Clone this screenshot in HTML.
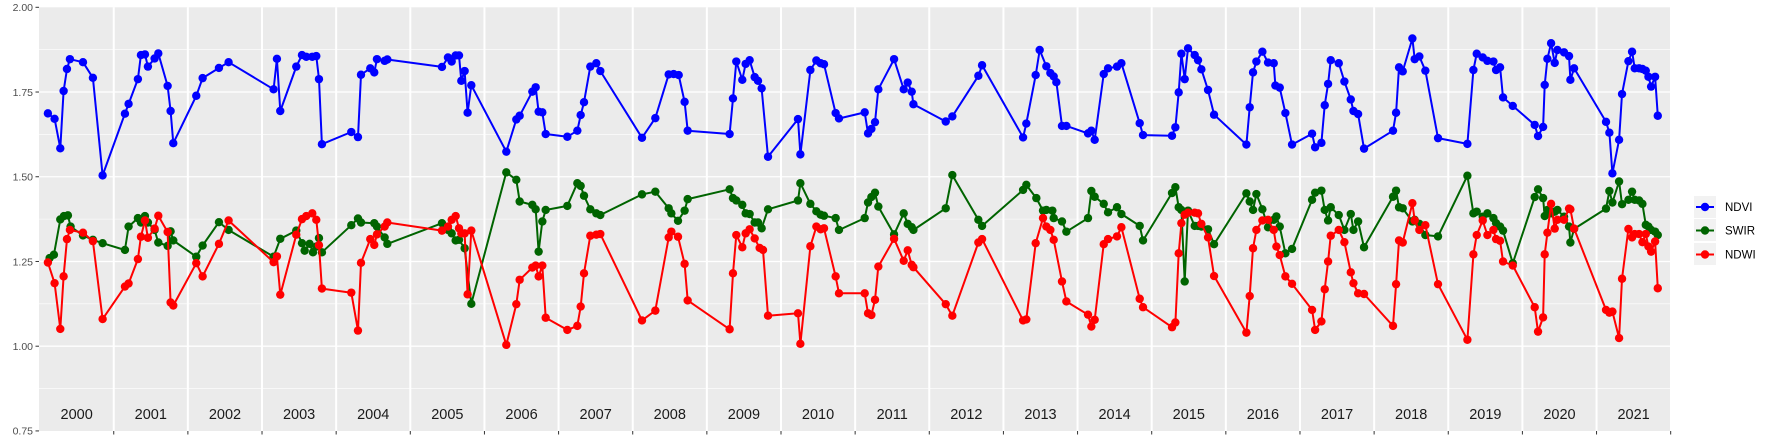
<!DOCTYPE html>
<html><head><meta charset="utf-8"><style>
body{margin:0;background:#fff;}
svg text{font-family:"Liberation Sans",sans-serif;}
</style></head><body>
<svg id="chart" width="1773" height="442" xmlns="http://www.w3.org/2000/svg">
<rect x="39" y="7.3" width="1631" height="423.7" fill="#EBEBEB"/>
<g id="grid"></g><g id="lines"></g><g id="points"></g><g id="axes"></g>
<g>
  <rect x="1694" y="196" width="22" height="22" fill="#F2F2F2"/>
  <rect x="1694" y="219" width="22" height="22" fill="#F2F2F2"/>
  <rect x="1694" y="243" width="22" height="22" fill="#F2F2F2"/>
  <g><line x1="1696" y1="207" x2="1714" y2="207" stroke="#0000FF" stroke-width="2"/><circle cx="1705" cy="207" r="4.2" fill="#0000FF"/><text x="1725" y="211" font-size="11.5" fill="#000">NDVI</text></g>
  <g><line x1="1696" y1="230.5" x2="1714" y2="230.5" stroke="#006400" stroke-width="2"/><circle cx="1705" cy="230.5" r="4.2" fill="#006400"/><text x="1725" y="234.5" font-size="11.5" fill="#000">SWIR</text></g>
  <g><line x1="1696" y1="254.5" x2="1714" y2="254.5" stroke="#FF0000" stroke-width="2"/><circle cx="1705" cy="254.5" r="4.2" fill="#FF0000"/><text x="1725" y="258.5" font-size="11.5" fill="#000">NDWI</text></g>
</g>
</svg>
<script>
const years=[2000,2001,2002,2003,2004,2005,2006,2007,2008,2009,2010,2011,2012,2013,2014,2015,2016,2017,2018,2019,2020,2021];
const yTicks=[0.75,1.00,1.25,1.50,1.75,2.00];
const yTickLabels=["0.75","1.00","1.25","1.50","1.75","2.00"];
const ndviT=[.112,.202,.279,.324,.369,.409,.585,.719,.850,1.151,1.200,1.326,1.367,1.421,1.461,1.551,1.601,1.727,1.767,1.803,2.113,2.199,2.419,2.549,3.156,3.201,3.246,3.462,3.539,3.597,3.678,3.732,3.768,3.808,4.204,4.294,4.335,4.460,4.514,4.550,4.654,4.690,5.427,5.508,5.558,5.612,5.657,5.688,5.733,5.773,5.823,6.295,6.430,6.475,6.646,6.691,6.731,6.781,6.826,7.118,7.253,7.298,7.343,7.428,7.509,7.563,8.125,8.305,8.485,8.552,8.620,8.700,8.741,9.307,9.352,9.397,9.478,9.523,9.577,9.645,9.690,9.739,9.825,10.229,10.261,10.396,10.477,10.535,10.580,10.737,10.782,11.129,11.174,11.219,11.268,11.313,11.525,11.655,11.709,11.763,11.786,12.222,12.311,12.662,12.712,13.265,13.309,13.435,13.489,13.579,13.633,13.678,13.714,13.790,13.849,14.141,14.186,14.231,14.353,14.411,14.532,14.591,14.838,14.883,15.274,15.319,15.364,15.400,15.445,15.490,15.580,15.625,15.670,15.760,15.841,16.277,16.322,16.367,16.412,16.493,16.569,16.646,16.668,16.727,16.803,16.893,17.163,17.204,17.289,17.334,17.379,17.415,17.523,17.599,17.685,17.721,17.784,17.864,18.255,18.296,18.336,18.386,18.516,18.547,18.610,18.691,18.862,19.258,19.339,19.384,19.465,19.528,19.609,19.645,19.699,19.739,19.870,20.166,20.211,20.279,20.301,20.337,20.387,20.436,20.472,20.562,20.629,20.647,20.697,21.128,21.173,21.214,21.304,21.344,21.430,21.479,21.515,21.574,21.619,21.664,21.700,21.736,21.790,21.826];
const ndviV=[1.687,1.671,1.584,1.753,1.818,1.847,1.838,1.792,1.504,1.686,1.715,1.788,1.859,1.861,1.825,1.849,1.864,1.768,1.694,1.599,1.739,1.791,1.821,1.838,1.758,1.848,1.694,1.825,1.859,1.854,1.854,1.856,1.788,1.596,1.632,1.617,1.801,1.820,1.808,1.847,1.842,1.846,1.824,1.852,1.840,1.858,1.858,1.783,1.812,1.689,1.770,1.574,1.669,1.680,1.751,1.764,1.692,1.690,1.626,1.618,1.636,1.682,1.720,1.825,1.835,1.812,1.615,1.673,1.802,1.803,1.800,1.721,1.636,1.626,1.731,1.840,1.786,1.833,1.844,1.794,1.783,1.761,1.559,1.670,1.566,1.815,1.843,1.835,1.832,1.688,1.672,1.690,1.628,1.641,1.661,1.758,1.847,1.758,1.778,1.751,1.714,1.663,1.678,1.798,1.829,1.616,1.657,1.800,1.874,1.826,1.806,1.796,1.779,1.650,1.650,1.628,1.636,1.609,1.803,1.820,1.825,1.835,1.658,1.623,1.621,1.646,1.749,1.863,1.788,1.879,1.859,1.844,1.817,1.756,1.683,1.595,1.705,1.808,1.840,1.869,1.837,1.835,1.769,1.763,1.688,1.595,1.627,1.587,1.600,1.711,1.774,1.844,1.835,1.781,1.728,1.694,1.685,1.583,1.636,1.689,1.823,1.811,1.908,1.847,1.855,1.813,1.614,1.597,1.815,1.863,1.852,1.842,1.840,1.815,1.823,1.734,1.709,1.653,1.620,1.647,1.771,1.848,1.894,1.836,1.874,1.867,1.856,1.786,1.820,1.662,1.630,1.510,1.609,1.744,1.841,1.869,1.820,1.820,1.818,1.813,1.795,1.766,1.795,1.680];
const swirT=[.135,.193,.279,.328,.382,.418,.585,.719,.850,1.151,1.200,1.326,1.367,1.421,1.461,1.551,1.601,1.727,1.767,1.803,2.113,2.199,2.419,2.549,3.156,3.246,3.462,3.539,3.575,3.642,3.687,3.732,3.768,3.808,4.204,4.294,4.335,4.514,4.550,4.654,4.690,5.427,5.508,5.558,5.612,5.657,5.733,5.823,6.295,6.430,6.475,6.646,6.691,6.731,6.781,6.826,7.118,7.253,7.298,7.343,7.428,7.509,7.563,8.125,8.305,8.485,8.521,8.611,8.700,8.741,9.307,9.352,9.397,9.478,9.523,9.577,9.645,9.690,9.739,9.825,10.229,10.261,10.396,10.477,10.535,10.580,10.737,10.782,11.129,11.174,11.219,11.268,11.313,11.525,11.655,11.709,11.763,11.786,12.222,12.311,12.662,12.712,13.265,13.309,13.444,13.534,13.579,13.660,13.678,13.790,13.849,14.141,14.186,14.231,14.353,14.411,14.532,14.591,14.838,14.883,15.274,15.319,15.364,15.400,15.445,15.490,15.580,15.625,15.670,15.760,15.841,16.277,16.322,16.367,16.412,16.493,16.569,16.646,16.682,16.727,16.803,16.893,17.163,17.204,17.289,17.334,17.379,17.415,17.523,17.599,17.685,17.721,17.784,17.864,18.255,18.296,18.336,18.386,18.516,18.547,18.610,18.691,18.862,19.258,19.339,19.384,19.465,19.528,19.609,19.645,19.699,19.739,19.870,20.166,20.211,20.279,20.301,20.337,20.387,20.436,20.472,20.562,20.629,20.647,20.697,21.128,21.173,21.214,21.304,21.344,21.430,21.479,21.515,21.574,21.619,21.664,21.700,21.736,21.790,21.826];
const swirV=[1.260,1.270,1.374,1.384,1.386,1.353,1.327,1.314,1.304,1.284,1.353,1.378,1.365,1.384,1.365,1.343,1.306,1.296,1.339,1.312,1.264,1.297,1.366,1.343,1.264,1.317,1.341,1.304,1.282,1.302,1.277,1.294,1.319,1.277,1.357,1.377,1.365,1.363,1.353,1.321,1.302,1.363,1.343,1.333,1.312,1.314,1.289,1.125,1.513,1.491,1.427,1.417,1.404,1.279,1.368,1.402,1.414,1.481,1.473,1.444,1.404,1.392,1.387,1.448,1.456,1.407,1.392,1.370,1.400,1.434,1.463,1.437,1.430,1.417,1.392,1.390,1.365,1.365,1.348,1.404,1.430,1.481,1.420,1.398,1.388,1.385,1.378,1.343,1.378,1.424,1.440,1.453,1.412,1.330,1.392,1.361,1.351,1.343,1.407,1.505,1.373,1.355,1.461,1.476,1.437,1.400,1.402,1.400,1.378,1.368,1.338,1.378,1.458,1.441,1.420,1.395,1.410,1.390,1.355,1.312,1.452,1.469,1.410,1.402,1.191,1.400,1.355,1.355,1.353,1.345,1.301,1.451,1.427,1.402,1.449,1.404,1.351,1.373,1.383,1.353,1.274,1.287,1.432,1.453,1.459,1.402,1.371,1.410,1.387,1.343,1.390,1.343,1.368,1.292,1.441,1.459,1.410,1.407,1.368,1.373,1.361,1.328,1.324,1.503,1.392,1.397,1.382,1.392,1.378,1.363,1.353,1.341,1.245,1.440,1.463,1.437,1.384,1.402,1.392,1.397,1.402,1.382,1.353,1.306,1.346,1.406,1.458,1.424,1.486,1.419,1.432,1.456,1.432,1.430,1.420,1.358,1.353,1.343,1.338,1.328];
const ndwiT=[.112,.202,.279,.324,.369,.409,.585,.719,.850,1.151,1.200,1.326,1.367,1.421,1.461,1.551,1.601,1.727,1.767,1.803,2.113,2.199,2.419,2.549,3.156,3.201,3.246,3.462,3.539,3.597,3.678,3.732,3.768,3.808,4.204,4.294,4.335,4.460,4.514,4.550,4.654,4.690,5.427,5.508,5.558,5.612,5.657,5.688,5.733,5.773,5.823,6.295,6.430,6.475,6.646,6.691,6.731,6.781,6.826,7.118,7.253,7.298,7.343,7.428,7.509,7.563,8.125,8.305,8.485,8.521,8.611,8.700,8.741,9.307,9.352,9.397,9.478,9.523,9.577,9.645,9.712,9.757,9.825,10.229,10.261,10.396,10.477,10.535,10.580,10.737,10.782,11.129,11.174,11.219,11.268,11.313,11.525,11.655,11.709,11.763,11.786,12.222,12.311,12.662,12.712,13.265,13.309,13.435,13.534,13.579,13.633,13.678,13.790,13.849,14.141,14.186,14.231,14.353,14.411,14.532,14.591,14.838,14.883,15.274,15.319,15.364,15.400,15.445,15.490,15.580,15.625,15.670,15.760,15.841,16.277,16.322,16.367,16.412,16.493,16.569,16.646,16.682,16.727,16.803,16.893,17.163,17.204,17.289,17.334,17.379,17.415,17.523,17.599,17.685,17.721,17.784,17.864,18.255,18.296,18.336,18.386,18.516,18.547,18.610,18.691,18.862,19.258,19.339,19.384,19.465,19.528,19.609,19.645,19.699,19.739,19.870,20.166,20.211,20.279,20.301,20.337,20.387,20.436,20.472,20.562,20.629,20.647,20.697,21.128,21.173,21.214,21.304,21.344,21.430,21.479,21.515,21.574,21.619,21.664,21.700,21.736,21.790,21.826];
const ndwiV=[1.247,1.186,1.051,1.206,1.316,1.343,1.335,1.310,1.080,1.176,1.185,1.257,1.323,1.371,1.320,1.347,1.385,1.337,1.129,1.120,1.245,1.206,1.302,1.371,1.248,1.265,1.152,1.329,1.375,1.384,1.392,1.373,1.298,1.170,1.158,1.046,1.246,1.316,1.299,1.330,1.353,1.365,1.341,1.353,1.373,1.384,1.348,1.333,1.333,1.153,1.341,1.004,1.124,1.196,1.232,1.238,1.206,1.238,1.084,1.048,1.060,1.117,1.215,1.326,1.329,1.331,1.076,1.105,1.321,1.338,1.323,1.243,1.135,1.050,1.215,1.328,1.292,1.333,1.345,1.318,1.290,1.284,1.090,1.097,1.007,1.295,1.353,1.345,1.348,1.206,1.156,1.156,1.097,1.092,1.137,1.235,1.317,1.252,1.283,1.240,1.233,1.124,1.090,1.306,1.316,1.076,1.079,1.304,1.378,1.353,1.343,1.314,1.191,1.132,1.093,1.058,1.078,1.301,1.316,1.324,1.351,1.140,1.115,1.056,1.070,1.274,1.363,1.388,1.394,1.394,1.392,1.361,1.321,1.207,1.040,1.148,1.289,1.343,1.371,1.373,1.343,1.294,1.269,1.206,1.184,1.107,1.048,1.073,1.168,1.250,1.326,1.343,1.307,1.218,1.186,1.156,1.154,1.060,1.183,1.312,1.306,1.422,1.371,1.343,1.357,1.183,1.019,1.271,1.328,1.371,1.328,1.343,1.316,1.311,1.250,1.238,1.115,1.043,1.085,1.271,1.335,1.420,1.347,1.373,1.373,1.406,1.404,1.347,1.107,1.099,1.102,1.024,1.199,1.346,1.321,1.331,1.331,1.307,1.331,1.294,1.279,1.309,1.171];

const NS='http://www.w3.org/2000/svg';
const X0=39.6, YW=74.14, Y2=7.3, YPU=338.9;
function xs(t){return X0+t*YW;}
function ys(v){return Y2+(2-v)*YPU;}
function mk(tag,attrs,parent){const e=document.createElementNS(NS,tag);for(const k in attrs)e.setAttribute(k,attrs[k]);parent.appendChild(e);return e;}
const grid=document.getElementById('grid'),axes=document.getElementById('axes');
[0.875,1.125,1.375,1.625,1.875].forEach(v=>{const l=mk('line',{x1:39,x2:1670,y1:ys(v),y2:ys(v),stroke:'#fff','stroke-width':0.6},grid);

});
yTicks.forEach((v,i)=>{
 if(v>0.75&&v<2){const l=mk('line',{x1:39,x2:1670,y1:ys(v),y2:ys(v),stroke:'#fff','stroke-width':1.3},grid);
 
 }
 const tk=mk('line',{x1:35.5,x2:39,y1:ys(v),y2:ys(v),stroke:'#333','stroke-width':1},axes);
 
 
 const t=mk('text',{x:33,y:ys(v)+3.8,'text-anchor':'end','font-size':'10.5',fill:'#4D4D4D'},axes);
 
 
 t.textContent=yTickLabels[i];
});
years.forEach((y,i)=>{
 if(i>0){const l=mk('line',{x1:xs(i),x2:xs(i),y1:7.3,y2:431,stroke:'#fff','stroke-width':2},grid);
 
 }
 const tk=mk('line',{x1:xs(i+1),x2:xs(i+1),y1:431,y2:434.5,stroke:'#333','stroke-width':1},axes);
 
 
 const t=mk('text',{x:xs(i+0.5),y:419,'text-anchor':'middle','font-size':'14.5',fill:'#1a1a1a'},axes);
 
 
 t.textContent=String(y);
});
const series=[['ndvi',ndviT,ndviV,'#0000FF'],['swir',swirT,swirV,'#006400'],['ndwi',ndwiT,ndwiV,'#FF0000']];
const lg=document.getElementById('lines'),pg=document.getElementById('points');
series.forEach(s=>{
 const [nm,T,V,c]=s;
 const g=mk('g',{},lg);
 
 
 const p=mk('polyline',{points:T.map((t,i)=>xs(t).toFixed(1)+','+ys(V[i]).toFixed(1)).join(' '),fill:'none',stroke:c,'stroke-width':2,'stroke-linejoin':'round'},g);
 
 
 T.forEach((t,i)=>{const d=mk('circle',{cx:xs(t),cy:ys(V[i]),r:4.2,fill:c},g);
 
 });
});
</script>
</body></html>
